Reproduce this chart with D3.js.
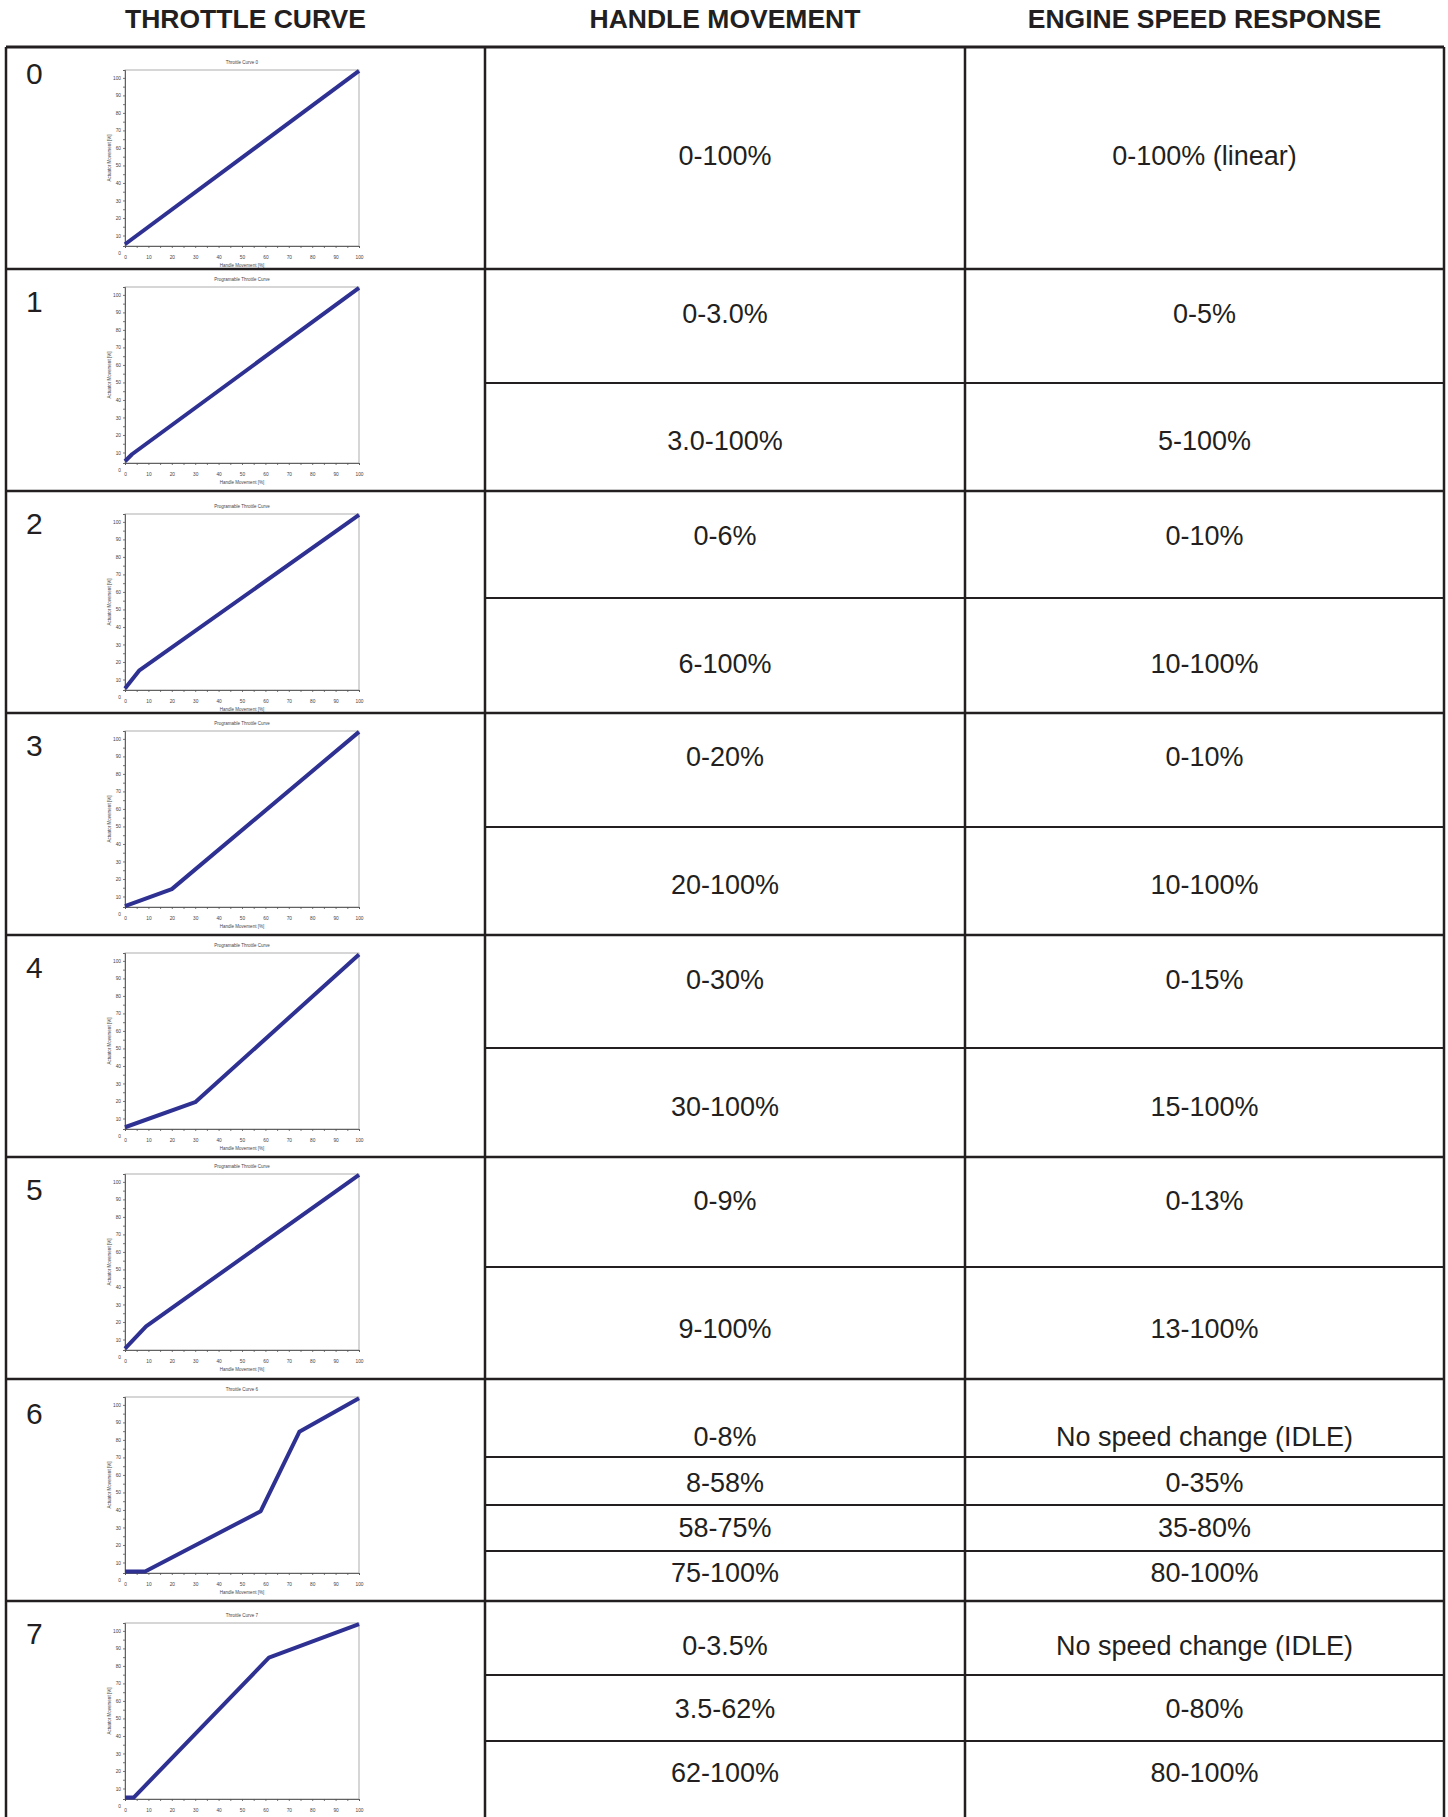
<!DOCTYPE html>
<html>
<head>
<meta charset="utf-8">
<script src="https://cdn.jsdelivr.net/npm/d3@7"></script>
<style>
  body { margin: 0; background: #fff; }
  text { font-family: 'Liberation Sans', Arial, sans-serif; fill: #231f20; }
</style>
</head>
<body>
<div id="chart"></div>
<script>
// ---- data ----
const headers = ['THROTTLE CURVE', 'HANDLE MOVEMENT', 'ENGINE SPEED RESPONSE']
const curveNames = ['0', '1', '2', '3', '4', '5', '6', '7']
const chartTitles = [
  'Throttle Curve 0',
  'Programable Throttle Curve',
  'Programable Throttle Curve',
  'Programable Throttle Curve',
  'Programable Throttle Curve',
  'Programable Throttle Curve',
  'Throttle Curve 6',
  'Throttle Curve 7'
]
// [handle movement %, actuator movement %]
const curve0 = [[0, 5], [100, 104]]
const curve1 = [[0, 5], [3, 9], [100, 104]]
const curve2 = [[0, 4.8], [6, 15], [100, 104]]
const curve3 = [[0, 4.5], [20, 14.2], [100, 104]]
const curve4 = [[0, 5], [30, 19.3], [100, 103.6]]
const curve5 = [[0, 4.8], [9, 17.5], [100, 104]]
const curve6 = [[0, 4.8], [8.6, 4.8], [58, 39.3], [74.5, 84.6], [100, 103.8]]
const curve7 = [[0, 4.8], [3.7, 4.8], [61.5, 84.7], [100, 103.8]]
const curves = [curve0, curve1, curve2, curve3, curve4, curve5, curve6, curve7]

const handleMovement = [
  ['0-100%'],
  ['0-3.0%', '3.0-100%'],
  ['0-6%', '6-100%'],
  ['0-20%', '20-100%'],
  ['0-30%', '30-100%'],
  ['0-9%', '9-100%'],
  ['0-8%', '8-58%', '58-75%', '75-100%'],
  ['0-3.5%', '3.5-62%', '62-100%']
]
const speedResponse = [
  ['0-100% (linear)'],
  ['0-5%', '5-100%'],
  ['0-10%', '10-100%'],
  ['0-10%', '10-100%'],
  ['0-15%', '15-100%'],
  ['0-13%', '13-100%'],
  ['No speed change (IDLE)', '0-35%', '35-80%', '80-100%'],
  ['No speed change (IDLE)', '0-80%', '80-100%']
]
const tickValues = [0, 5, 10, 15, 20, 25, 30, 35, 40, 45, 50, 55, 60, 65, 70, 75, 80, 85, 90, 95, 100]
const xTitle = 'Handle Movement [%]'
const yTitle = 'Actuator Movement [%]'

// ---- layout ----
const width = 1448
const height = 1817
const rowHeight = 222
const tableTop = 47
const colEdges = [6, 485, 965, 1444]
// per row: sub-row split lines and text centre lines, px from row top
const rowLayout = [
  { splits: [], text: [108], chartTop: 23, labelY: 37 },
  { splits: [114], text: [44, 171], chartTop: 18, labelY: 43 },
  { splits: [107], text: [44, 172], chartTop: 23, labelY: 43 },
  { splits: [114], text: [43, 171], chartTop: 18, labelY: 43 },
  { splits: [113], text: [44, 171], chartTop: 18, labelY: 43 },
  { splits: [110], text: [43, 171], chartTop: 17, labelY: 43 },
  { splits: [78, 126, 172], text: [57, 103, 148, 193], chartTop: 18, labelY: 45 },
  { splits: [74, 140], text: [44, 107, 171], chartTop: 22, labelY: 43 }
]
const plotW = 234
const plotH = 176
const plotLeft = 125

const svg = d3
  .select('#chart')
  .append('svg')
  .attr('width', width)
  .attr('height', height)

const rowY = d3.scaleLinear().domain([0, 1]).range([tableTop, tableTop + rowHeight])

// headers
svg
  .selectAll('.header')
  .data(headers)
  .enter()
  .append('text')
  .attr('class', 'header')
  .attr('x', (d, i) => (colEdges[i] + colEdges[i + 1]) / 2)
  .attr('y', 28)
  .attr('text-anchor', 'middle')
  .style('font-size', '26.5px')
  .style('font-weight', 'bold')
  .text(d => d)

const xScale = d3.scaleLinear().domain([0, 100]).range([plotLeft, plotLeft + plotW])
const line = d3.line()

const rows = svg
  .selectAll('.row')
  .data(curveNames)
  .enter()
  .append('g')
  .attr('class', 'row')
  .attr('transform', (d, i) => `translate(0,${rowY(i)})`)

rows.each(function(name, i) {
  const g = d3.select(this)
  const lay = rowLayout[i]

  g.append('text')
    .attr('x', 26)
    .attr('y', lay.labelY)
    .style('font-size', '30px')
    .text(name)

  // small chart
  const top = lay.chartTop
  const yScale = d3.scaleLinear().domain([4, 104.5]).range([top + plotH, top])

  const chart = g.append('g').attr('class', 'mini')
  chart
    .append('rect')
    .attr('x', plotLeft)
    .attr('y', top)
    .attr('width', plotW)
    .attr('height', plotH)
    .attr('fill', 'white')
    .attr('stroke', '#9a9a9a')
    .attr('stroke-width', 0.8)

  chart
    .append('text')
    .attr('x', plotLeft + plotW / 2)
    .attr('y', top - 6)
    .attr('text-anchor', 'middle')
    .style('font-size', '4.5px')
    .style('fill', '#444')
    .text(chartTitles[i])

  const xAxis = d3
    .axisBottom(xScale)
    .tickValues(tickValues)
    .tickSize(2)
    .tickFormat(d => (d % 10 === 0 ? d : ''))
  chart
    .append('g')
    .attr('transform', `translate(0,${top + plotH})`)
    .call(xAxis)
    .call(a => a.select('.domain').attr('stroke', '#555').attr('stroke-width', 0.9))
    .call(a => a.selectAll('line').attr('stroke', '#555').attr('stroke-width', 0.8))
    .call(a => a.selectAll('text').attr('y', 10).style('font-size', '4.8px').style('fill', '#444'))

  const yAxis = d3
    .axisLeft(yScale)
    .tickValues(tickValues)
    .tickSize(2)
    .tickFormat(d => (d % 10 === 0 ? d : ''))
  chart
    .append('g')
    .attr('transform', `translate(${plotLeft},0)`)
    .call(yAxis)
    .call(a => a.select('.domain').attr('stroke', '#555').attr('stroke-width', 0.9))
    .call(a => a.selectAll('line').attr('stroke', '#555').attr('stroke-width', 0.8))
    .call(a => a.selectAll('.tick').filter(d => d < 6).select('line').remove())
    .call(a => a.selectAll('text').attr('x', -4).style('font-size', '4.8px').style('fill', '#444'))

  // x title only where it still falls on the page
  if (rowY(i) + top + plotH + 21 < height - 2) {
    chart
      .append('text')
      .attr('x', plotLeft + plotW / 2)
      .attr('y', top + plotH + 21)
      .attr('text-anchor', 'middle')
      .style('font-size', '4.5px')
      .style('fill', '#444')
      .text(xTitle)
  }

  chart
    .append('text')
    .attr('transform', `translate(${plotLeft - 14},${top + plotH / 2}) rotate(-90)`)
    .attr('text-anchor', 'middle')
    .style('font-size', '4.5px')
    .style('fill', '#444')
    .text(yTitle)

  chart
    .append('path')
    .datum(curves[i])
    .attr('d', line.x(d => xScale(d[0])).y(d => yScale(d[1])))
    .attr('fill', 'none')
    .attr('stroke', '#2e3192')
    .attr('stroke-width', 4)
    .attr('stroke-linejoin', 'round')

  // text columns
  const cols = [handleMovement[i], speedResponse[i]]
  cols.forEach((vals, c) => {
    const cx = (colEdges[c + 1] + colEdges[c + 2]) / 2
    g.selectAll(`.cell-${c}`)
      .data(vals)
      .enter()
      .append('text')
      .attr('x', cx)
      .attr('y', (d, k) => lay.text[k] + 9.7)
      .attr('text-anchor', 'middle')
      .style('font-size', '27px')
      .text(d => d)
  })

  // sub-row lines across the two text columns
  g.selectAll('.split')
    .data(lay.splits)
    .enter()
    .append('line')
    .attr('x1', colEdges[1])
    .attr('x2', colEdges[3])
    .attr('y1', d => d)
    .attr('y2', d => d)
    .attr('stroke', '#231f20')
    .attr('stroke-width', 2)
})

// table grid
const grid = svg.append('g').attr('class', 'grid')
grid
  .selectAll('.hline')
  .data(d3.range(curveNames.length + 1))
  .enter()
  .append('line')
  .attr('x1', colEdges[0])
  .attr('x2', colEdges[3])
  .attr('y1', d => rowY(d))
  .attr('y2', d => rowY(d))
  .attr('stroke', '#231f20')
  .attr('stroke-width', d => (d === 0 ? 3 : 2.5))

grid
  .selectAll('.vline')
  .data(colEdges)
  .enter()
  .append('line')
  .attr('x1', d => d)
  .attr('x2', d => d)
  .attr('y1', rowY(0))
  .attr('y2', rowY(curveNames.length))
  .attr('stroke', '#231f20')
  .attr('stroke-width', 2.5)
</script>
</body>
</html>
